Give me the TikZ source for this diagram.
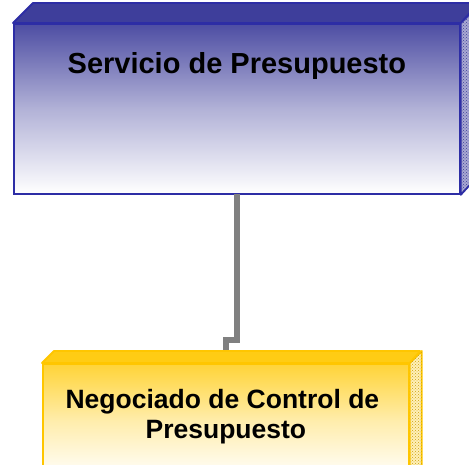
\documentclass[tikz,border=0pt]{standalone}
\usepackage{fontspec}
\setmainfont{Liberation Sans}
\usetikzlibrary{positioning,patterns}

\definecolor{srvblue}{RGB}{62,62,155}
\definecolor{srvedge}{RGB}{45,45,165}
\definecolor{neggold}{RGB}{255,204,20}
\definecolor{negedge}{RGB}{255,198,0}
\definecolor{linkgray}{RGB}{128,128,128}

\begin{document}
\begin{tikzpicture}[x=1pt,y=-1pt,
        face/.style={draw, line width=1.8pt, inner sep=0pt, anchor=north west},
        boxtext/.style={font=\bfseries, text=black, inner sep=0pt}]
    \useasboundingbox (0,0) rectangle (469,465);
    \clip (0,0) rectangle (469,465);

    % upper box
    \node[face, srvedge, minimum width=446pt, minimum height=170pt,
          top color=srvblue!92, bottom color=white, middle color=srvblue!40!white] (srv) at (13,23) {};
    \filldraw[srvedge, fill=srvblue, line width=1.8pt, line join=round]
        (srv.north west) -- ++(20,-20) -- ++(446,0) -- (srv.north east) -- cycle;
    \filldraw[srvedge, fill=srvblue!45!white, line width=1.8pt, line join=round]
        (srv.north east) -- ++(20,-20) -- ++(0,170) -- (srv.south east) -- cycle;
    \fill[pattern=crosshatch dots, pattern color=srvblue]
        (srv.north east) -- ++(20,-20) -- ++(0,170) -- (srv.south east) -- cycle;
    \node[boxtext, anchor=base, font=\fontsize{29}{34}\selectfont\bfseries]
        (srvtxt) at ([yshift=-51pt]srv.north) {Servicio de Presupuesto};

    % lower box
    \coordinate (negnw) at (42,363);
    \node[face, negedge, minimum width=366pt, minimum height=115pt,
          top color=neggold!85!white, bottom color=white, middle color=neggold!35!white] (neg) at (negnw) {};
    \draw[linkgray, line width=5.5pt] ([yshift=1pt]srv.south) -- ++(0,146) -| (neg.north);
    \filldraw[negedge, fill=neggold, line width=1.8pt, line join=round]
        (neg.north west) -- ++(12,-12) -- ++(366,0) -- (neg.north east) -- cycle;
    \filldraw[negedge, fill=neggold!30!white, line width=1.8pt, line join=round]
        (neg.north east) -- ++(12,-12) -- ++(0,115) -- (neg.south east) -- cycle;
    \fill[pattern=crosshatch dots, pattern color=neggold!80!black]
        (neg.north east) -- ++(12,-12) -- ++(0,115) -- (neg.south east) -- cycle;
    \node[boxtext, anchor=base, align=center, font=\fontsize{26.5}{30}\selectfont\bfseries]
        (negtxt) at ([yshift=-75pt]neg.north) {Negociado de Control de\hspace*{7pt}\\Presupuesto};
\end{tikzpicture}
\end{document}
